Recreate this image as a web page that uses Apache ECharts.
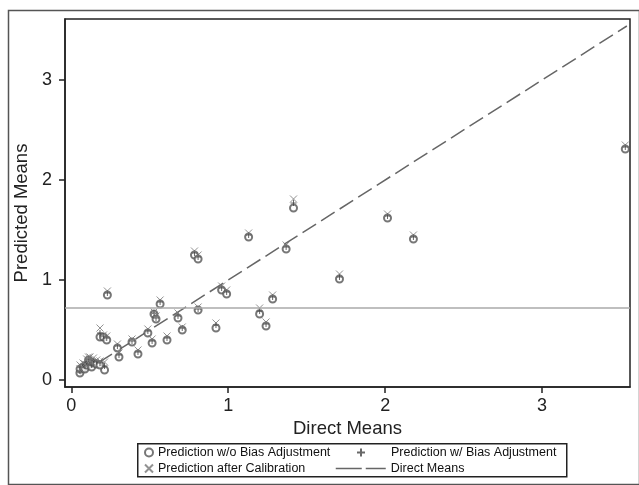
<!DOCTYPE html>
<html>
<head>
<meta charset="utf-8">
<script src="https://cdn.jsdelivr.net/npm/echarts@6/dist/echarts.min.js"></script>
<style>
html,body{margin:0;padding:0;background:#fff;}
#chart{width:639px;height:485px;}
</style>
</head>
<body>
<div id="chart"></div>
<script>
// ---- data ----
const xDirect = [3.53,1.416,2.015,2.18,1.13,1.369,0.785,0.808,1.709,0.958,0.99,0.23,0.566,1.283,0.808,0.527,0.54,0.68,1.2,1.241,0.922,0.707,0.488,0.515,0.61,0.387,0.425,0.294,0.304,0.183,0.205,0.226,0.212,0.055,0.056,0.075,0.087,0.098,0.119,0.13,0.141,0.162,0.183,0.11];
const yNoBias = [2.31,1.72,1.62,1.41,1.43,1.31,1.25,1.21,1.01,0.90,0.86,0.85,0.76,0.81,0.70,0.66,0.61,0.62,0.66,0.54,0.52,0.50,0.47,0.37,0.40,0.38,0.26,0.32,0.23,0.43,0.43,0.40,0.10,0.07,0.11,0.13,0.11,0.15,0.18,0.13,0.17,0.16,0.15,0.20];
const yBias = [2.33,1.77,1.64,1.43,1.45,1.33,1.27,1.23,1.03,0.92,0.88,0.87,0.78,0.83,0.71,0.67,0.62,0.64,0.69,0.56,0.55,0.52,0.49,0.39,0.42,0.39,0.28,0.34,0.25,0.47,0.44,0.42,0.14,0.09,0.13,0.15,0.14,0.18,0.20,0.15,0.19,0.18,0.17,0.21];
const yCalib = [2.35,1.81,1.66,1.45,1.47,1.35,1.29,1.25,1.06,0.94,0.90,0.89,0.80,0.85,0.73,0.68,0.64,0.67,0.72,0.58,0.57,0.53,0.51,0.41,0.44,0.41,0.30,0.36,0.27,0.52,0.45,0.44,0.18,0.11,0.15,0.17,0.16,0.21,0.23,0.18,0.22,0.20,0.19,0.23];
const directLine = [0.055, 3.54];
const meanLine = 0.72;
const xTicks = [0, 1, 2, 3];
const yTicks = [0, 1, 2, 3];
const seriesNames = ['Prediction w/o Bias Adjustment','Prediction w/ Bias Adjustment','Prediction after Calibration','Direct Means'];
const xTitle = 'Direct Means';
const yTitle = 'Predicted Means';

const pairs = (ys) => xDirect.map((x, i) => [x, ys[i]]);
const FONT = '"Liberation Sans", Arial, Helvetica, sans-serif';
const plusPath = 'path://M5,0L5,10M0,5L10,5';
const crossPath = 'path://M0,0L10,10M10,0L0,10';

const chart = echarts.init(document.getElementById('chart'), null, {renderer: 'canvas'});
const legendText = {fontFamily: FONT, fontSize: 12.5, color: '#111'};
chart.setOption({
  backgroundColor: '#fff',
  animation: false,
  grid: {left: 65, right: 9, top: 19, bottom: 98, show: true, borderColor: '#222', borderWidth: 1.5, backgroundColor: '#fff'},
  xAxis: {
    type: 'value', min: -0.04, max: 3.56,
    axisLine: {show: true, onZero: false, lineStyle: {color: '#222', width: 1.5}},
    axisTick: {show: true, length: 6, customValues: xTicks, lineStyle: {color: '#222', width: 1.5}},
    axisLabel: {customValues: xTicks, margin: 10, fontFamily: FONT, fontSize: 18, color: '#222'},
    splitLine: {show: false},
    name: xTitle, nameLocation: 'middle', nameGap: 32,
    nameTextStyle: {fontFamily: FONT, fontSize: 18.5, color: '#222'}
  },
  yAxis: {
    type: 'value', min: -0.07, max: 3.61,
    axisLine: {show: true, onZero: false, lineStyle: {color: '#222', width: 1.5}},
    axisTick: {show: true, length: 6, customValues: yTicks, lineStyle: {color: '#222', width: 1.5}},
    axisLabel: {customValues: yTicks, margin: 13, fontFamily: FONT, fontSize: 18, color: '#222'},
    splitLine: {show: false}
  },
  graphic: [
    {type: 'rect', left: 6, top: 8, shape: {width: 631, height: 474}, style: {fill: 'none', stroke: '#555', lineWidth: 1.5}, z: -1},
    {type: 'rect', left: 137, top: 443, shape: {width: 429, height: 33}, style: {fill: '#fff', stroke: '#222', lineWidth: 1.5}, z: 0},
    {type: 'text', x: 22, y: 213, rotation: Math.PI / 2, style: {text: yTitle, font: '18.5px ' + FONT, fill: '#222', align: 'center', verticalAlign: 'middle'}}
  ],
  legend: [
    {data: [seriesNames[0]], left: 144, top: 446, itemWidth: 8, itemHeight: 8, itemGap: 0, padding: 0, textStyle: legendText},
    {data: [seriesNames[1]], left: 356, top: 446, itemWidth: 8, itemHeight: 8, itemGap: 0, padding: 0, textStyle: Object.assign({padding: [0, 0, 0, 21]}, legendText)},
    {data: [seriesNames[2]], left: 144, top: 462, itemWidth: 8, itemHeight: 8, itemGap: 0, padding: 0, textStyle: legendText},
    {data: [seriesNames[3]], left: 335, top: 462, itemWidth: 50, itemHeight: 8, itemGap: 0, padding: 0, textStyle: legendText,
     lineStyle: {type: [26, 4], color: '#666', width: 1.5}, itemStyle: {color: 'rgba(0,0,0,0)', borderColor: 'rgba(0,0,0,0)', borderWidth: 0}}
  ],
  series: [
    {
      name: seriesNames[3], type: 'line', data: [[directLine[0], directLine[0]], [directLine[1], directLine[1]]],
      symbol: 'none', lineStyle: {color: '#666', width: 1.5, type: [16, 6]}, itemStyle: {color: '#666'}, z: 1,
      markLine: {silent: true, symbol: 'none', label: {show: false}, lineStyle: {color: '#aaa', width: 1.5, type: 'solid'}, data: [{yAxis: meanLine}]}
    },
    {
      name: seriesNames[0], type: 'scatter', data: pairs(yNoBias), symbol: 'emptyCircle', symbolSize: 7,
      itemStyle: {color: '#555', borderColor: '#555', borderWidth: 1.1}, z: 2
    },
    {
      name: seriesNames[1], type: 'scatter', data: pairs(yBias), symbol: plusPath, symbolSize: 6,
      itemStyle: {color: 'rgba(0,0,0,0)', borderColor: '#444', borderWidth: 1}, z: 3
    },
    {
      name: seriesNames[2], type: 'scatter', data: pairs(yCalib), symbol: crossPath, symbolSize: 7,
      itemStyle: {color: 'rgba(0,0,0,0)', borderColor: '#777', borderWidth: 1}, z: 4
    }
  ]
});
</script>
</body>
</html>
